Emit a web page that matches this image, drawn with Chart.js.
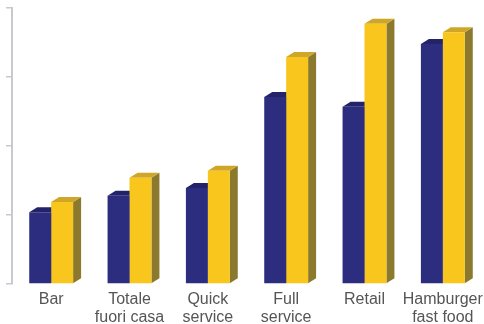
<!DOCTYPE html>
<html>
<head>
<meta charset="utf-8">
<script src="https://cdn.jsdelivr.net/npm/chart.js@4/dist/chart.umd.min.js"></script>
<style>
  html, body { margin: 0; padding: 0; background: #fff; }
  #wrap { width: 484px; height: 324px; }
</style>
</head>
<body>
<div id="wrap"><canvas id="chart" width="484" height="324"></canvas></div>
<script>
// categories (two-line labels)
const categories = [
  ["Bar"],
  ["Totale", "fuori casa"],
  ["Quick", "service"],
  ["Full", "service"],
  ["Retail"],
  ["Hamburger", "fast food"]
];

// values (axis 0..4, unlabeled)
const seriesBlue = [1.04, 1.28, 1.39, 2.71, 2.57, 3.48];
const seriesYellow = [1.19, 1.54, 1.64, 3.29, 3.77, 3.65];

const yTicks = [0, 1, 2, 3, 4];

const BLUE = "#2d2d80";
const YELLOW = "#f8c61c";

// fake 3D: side and top faces, drawn under the bar fronts
const depth3d = {
  id: "depth3d",
  beforeDatasetsDraw(chart) {
    const ctx = chart.ctx;
    const dx = 8, dy = 5;
    const sides = ["#1f1f5c", "#8b7a2e"];
    const tops = ["#23236a", "#cfa628"];
    chart.data.datasets.forEach((ds, i) => {
      const meta = chart.getDatasetMeta(i);
      meta.data.forEach(bar => {
        const l = bar.x - bar.width / 2;
        const r = bar.x + bar.width / 2;
        const t = bar.y;
        const b = bar.base;
        ctx.save();
        ctx.fillStyle = sides[i];
        ctx.beginPath();
        ctx.moveTo(r, t);
        ctx.lineTo(r + dx, t - dy);
        ctx.lineTo(r + dx, b - dy);
        ctx.lineTo(r, b);
        ctx.closePath();
        ctx.fill();
        ctx.fillStyle = tops[i];
        ctx.beginPath();
        ctx.moveTo(l, t);
        ctx.lineTo(l + dx, t - dy);
        ctx.lineTo(r + dx, t - dy);
        ctx.lineTo(r, t);
        ctx.closePath();
        ctx.fill();
        ctx.restore();
      });
    });
  }
};

new Chart(document.getElementById("chart"), {
  type: "bar",
  data: {
    labels: categories,
    datasets: [
      { data: seriesBlue, backgroundColor: BLUE },
      { data: seriesYellow, backgroundColor: YELLOW }
    ]
  },
  options: {
    responsive: false,
    animation: false,
    events: [],
    layout: { padding: { left: 6, right: 2, top: 8, bottom: 0 } },
    plugins: { legend: { display: false }, tooltip: { enabled: false } },
    datasets: { bar: { categoryPercentage: 0.56, barPercentage: 1 } },
    scales: {
      x: {
        grid: { display: false },
        border: { display: false },
        ticks: {
          color: "#555",
          padding: -1,
          maxRotation: 0,
          autoSkip: false,
          font: { family: "Liberation Sans, Arial, sans-serif", size: 16, lineHeight: 1.12 }
        },
        afterFit(scale) { scale.height = 40; }
      },
      y: {
        min: 0,
        max: 4,
        afterBuildTicks(scale) { scale.ticks = yTicks.map(v => ({ value: v })); },
        ticks: { display: false },
        grid: { drawOnChartArea: false, drawTicks: true, tickLength: 6, color: "#c8c8ce", lineWidth: 1.5 },
        border: { display: true, color: "#c8c8ce", width: 2 }
      }
    }
  },
  plugins: [depth3d]
});
</script>
</body>
</html>
